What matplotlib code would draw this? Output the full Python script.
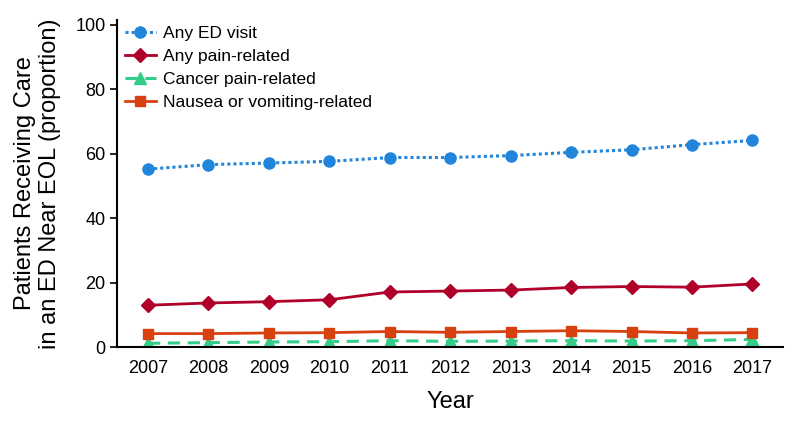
import matplotlib.pyplot as plt
from matplotlib import font_manager

# Data
years = [2007, 2008, 2009, 2010, 2011, 2012, 2013, 2014, 2015, 2016, 2017]
any_ed = [55.2, 56.6, 57.1, 57.6, 58.8, 58.8, 59.4, 60.4, 61.2, 62.8, 64.1]
any_pain = [13.0, 13.7, 14.1, 14.7, 17.1, 17.4, 17.7, 18.5, 18.8, 18.6, 19.6]
cancer_pain = [1.2, 1.4, 1.6, 1.7, 2.0, 1.8, 1.9, 2.0, 1.9, 2.0, 2.4]
nausea = [4.2, 4.2, 4.4, 4.5, 4.85, 4.6, 4.85, 5.1, 4.85, 4.4, 4.5]

names = {f.name for f in font_manager.fontManager.ttflist}
fam = "Liberation Sans Narrow" if "Liberation Sans Narrow" in names else "Liberation Sans"
plt.rcParams["font.family"] = [fam, "DejaVu Sans"]

fig = plt.figure(figsize=(7.92, 4.4), dpi=100)
ax = fig.add_axes([0.148, 0.211, 0.841, 0.744])

ax.plot(years, any_ed, color="#2185DC", linestyle=(0, (1, 1)), linewidth=2.2,
        marker="o", markersize=8, label="Any ED visit")
ax.plot(years, any_pain, color="#B0002A", linestyle="-", linewidth=2,
        marker="D", markersize=7, label="Any pain-related")
ax.plot(years, cancer_pain, color="#33CC88", linestyle=(0, (4, 2.5)), linewidth=2.2,
        marker="^", markersize=8, label="Cancer pain-related")
ax.plot(years, nausea, color="#D9400F", linestyle="-", linewidth=2,
        marker="s", markersize=7.5, label="Nausea or vomiting-related")

ax.set_xlim(2006.49, 2017.51)
ax.set_ylim(0, 101.5)
ax.set_yticks([0, 20, 40, 60, 80, 100])
ax.set_xticks(years)
ax.tick_params(axis="x", length=0, labelsize=13, pad=9)
ax.tick_params(axis="y", length=5, width=1.2, labelsize=13)
ax.spines["top"].set_visible(False)
ax.spines["right"].set_visible(False)
ax.spines["left"].set_linewidth(1.5)
ax.spines["bottom"].set_linewidth(1.5)

ax.set_xlabel("Year", fontsize=17, labelpad=10)
ax.set_ylabel("Patients Receiving Care\nin an ED Near EOL (proportion)", fontsize=17, labelpad=10)

ax.legend(loc="upper left", bbox_to_anchor=(-0.012, 1.03), frameon=False, fontsize=12.5,
          handlelength=1.8, labelspacing=0.45, handletextpad=0.4)

fig.savefig("out.png", dpi=100)
